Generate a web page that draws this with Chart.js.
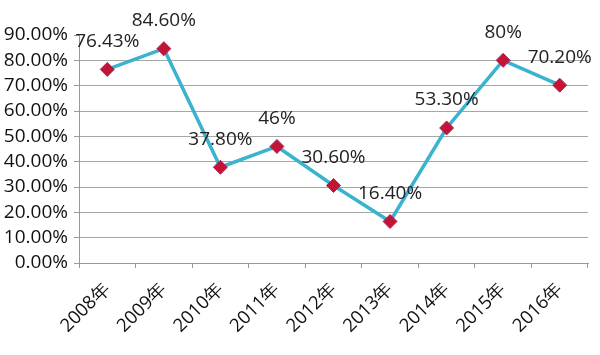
<!DOCTYPE html>
<html><head><meta charset="utf-8">
<script src="https://cdn.jsdelivr.net/npm/chart.js@4/dist/chart.umd.min.js"></script>
<style>html,body{margin:0;padding:0;background:#fff;}#wrap{width:600px;height:355px;}</style>
</head><body><div id="wrap"><canvas id="c" width="600" height="355"></canvas></div>
<script>
const categories = ['2008年','2009年','2010年','2011年','2012年','2013年','2014年','2015年','2016年'];
const values = [76.43, 84.6, 37.8, 46, 30.6, 16.4, 53.3, 80, 70.2];
const valueLabels = ['76.43%','84.60%','37.80%','46%','30.60%','16.40%','53.30%','80%','70.20%'];
const yTicks = [0,10,20,30,40,50,60,70,80,90];

const FONT = '"Open Sans", "DejaVu Sans", sans-serif';
const labelPlugin = {
  id: 'pointLabels',
  afterDatasetsDraw(chart) {
    const ctx = chart.ctx;
    const meta = chart.getDatasetMeta(0);
    ctx.save();
    ctx.font = '19px ' + FONT;
    ctx.fillStyle = '#222';
    ctx.textAlign = 'center';
    ctx.textBaseline = 'middle';
    meta.data.forEach((pt, i) => {
      ctx.fillText(valueLabels[i], pt.x, pt.y - 28);
    });
    ctx.restore();
  }
};

new Chart(document.getElementById('c'), {
  type: 'line',
  data: {
    labels: categories,
    datasets: [{
      data: values,
      borderColor: '#3AB3CF',
      borderWidth: 3.5,
      tension: 0,
      pointStyle: 'rectRot',
      pointRadius: 7,
      pointBackgroundColor: '#C41436',
      pointBorderColor: '#A8285A',
      pointBorderWidth: 1
    }]
  },
  options: {
    responsive: false,
    animation: false,
    layout: { padding: { top: 35, right: 12, left: 0, bottom: 0 } },
    plugins: { legend: { display: false }, tooltip: { enabled: false } },
    scales: {
      x: {
        offset: true,
        grid: { offset: true, drawOnChartArea: false, color: '#999', tickLength: 5 },
        border: { color: '#999', width: 1 },
        ticks: { font: { size: 18.5, family: FONT }, color: '#111', maxRotation: 45, minRotation: 45, padding: 10, autoSkip: false },
        afterFit(s) { s.height = 92; }
      },
      y: {
        min: 0, max: 90,
        afterBuildTicks(s) { s.ticks = yTicks.map(v => ({ value: v })); },
        grid: {
          color: (c) => (c.tick && c.tick.value === 90) ? 'rgba(0,0,0,0)' : '#A6A6A6',
          tickColor: '#999',
          tickLength: 5,
          lineWidth: 1
        },
        border: { color: '#999', width: 1 },
        ticks: {
          font: { size: 19, family: FONT }, color: '#111', padding: 6, autoSkip: false,
          callback: (v) => v.toFixed(2) + '%'
        },
        afterFit(s) { s.width = 79; }
      }
    }
  },
  plugins: [labelPlugin]
});
</script>
</body></html>
